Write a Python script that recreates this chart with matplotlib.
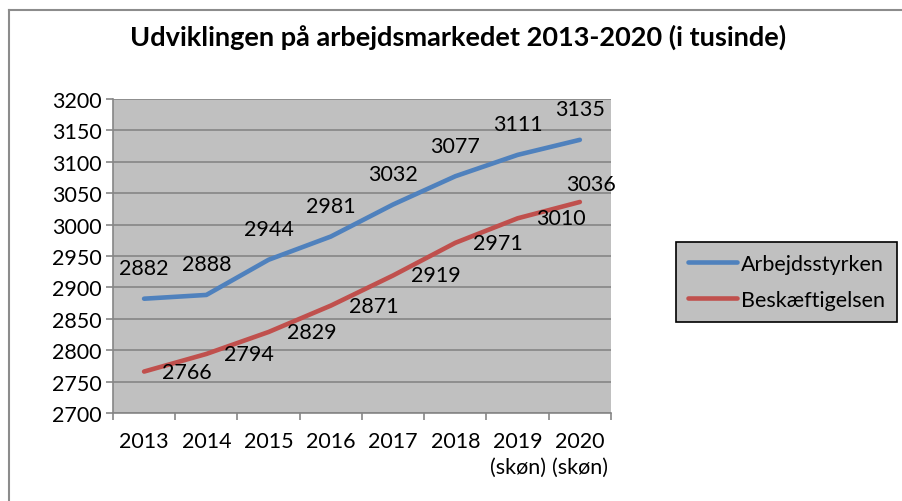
import matplotlib
matplotlib.use("Agg")
import matplotlib.pyplot as plt
from matplotlib.lines import Line2D

plt.rcParams['font.family'] = ['Lato', 'DejaVu Sans']

years = ["2013", "2014", "2015", "2016", "2017", "2018", "2019\n(skøn)", "2020\n(skøn)"]
arbejdsstyrken = [2882, 2888, 2944, 2981, 3032, 3077, 3111, 3135]
beskaeftigelsen = [2766, 2794, 2829, 2871, 2919, 2971, 3010, 3036]

blue = "#4F81BD"
red = "#C0504D"
grid_col = "#868686"
fs = 15.5

fig = plt.figure(figsize=(9.03, 5.02), dpi=100)
ax = fig.add_axes([0.1251, 0.1753, 0.5515, 0.6255])
ax.set_facecolor("#C0C0C0")

x = list(range(len(years)))
ax.plot(x, arbejdsstyrken, color=blue, lw=3.3, solid_capstyle="round", label="Arbejdsstyrken")
ax.plot(x, beskaeftigelsen, color=red, lw=3.3, solid_capstyle="round", label="Beskæftigelsen")

# data labels: blue above, red to the right
for xi, v in zip(x, arbejdsstyrken):
    ax.annotate(str(v), (xi, v), xytext=(0, 22), textcoords="offset points",
                ha="center", va="center", fontsize=fs)
for i, (xi, v) in enumerate(zip(x, beskaeftigelsen)):
    if i == len(x) - 1:
        ax.annotate(str(v), (xi, v), xytext=(8, 13), textcoords="offset points",
                    ha="center", va="center", fontsize=fs)
    else:
        ax.annotate(str(v), (xi, v), xytext=(13, 0), textcoords="offset points",
                    ha="left", va="center", fontsize=fs)

ax.set_xlim(-0.5, 7.5)
ax.set_ylim(2700, 3200)
ax.set_yticks(range(2700, 3201, 50))
ax.set_xticks(x)
ax.set_xticklabels(years, fontsize=fs, linespacing=1.35, va="top")
ax.set_xticks([i - 0.5 for i in range(len(years) + 1)], minor=True)
ax.tick_params(axis="x", which="major", length=0, pad=13)
ax.tick_params(axis="x", which="minor", length=5, color=grid_col, width=1.2)
ax.tick_params(axis="y", length=5, color=grid_col, width=1.2, labelsize=fs, pad=3)

ax.yaxis.grid(True, color=grid_col, lw=1.2)
ax.set_axisbelow(True)
for s in ["top", "right"]:
    ax.spines[s].set_visible(False)
for s in ["left", "bottom"]:
    ax.spines[s].set_color(grid_col)
    ax.spines[s].set_linewidth(1.2)

fig.text(0.507, 0.926, "Udviklingen på arbejdsmarkedet 2013-2020 (i tusinde)",
         ha="center", va="center", fontsize=19.5, fontweight="bold")

leg = fig.legend(loc="center", bbox_to_anchor=(0.871, 0.437), fontsize=fs,
                 frameon=True, fancybox=False, handlelength=2.3, handletextpad=0.2,
                 labelspacing=0.75, borderpad=0.55, borderaxespad=0)
leg.get_frame().set_facecolor("#C0C0C0")
leg.get_frame().set_edgecolor("black")
leg.get_frame().set_linewidth(1.2)
leg.get_frame().set_alpha(1)

# outer chart border (only top and left visible in the crop)
fig.add_artist(Line2D([9.5 / 903, 1], [1 - 10.5 / 502, 1 - 10.5 / 502],
                      transform=fig.transFigure, color="#8C8C8C", lw=1.5))
fig.add_artist(Line2D([9.5 / 903, 9.5 / 903], [0, 1 - 10.5 / 502],
                      transform=fig.transFigure, color="#8C8C8C", lw=1.5))

fig.savefig("out.png", dpi=100, facecolor="white")
